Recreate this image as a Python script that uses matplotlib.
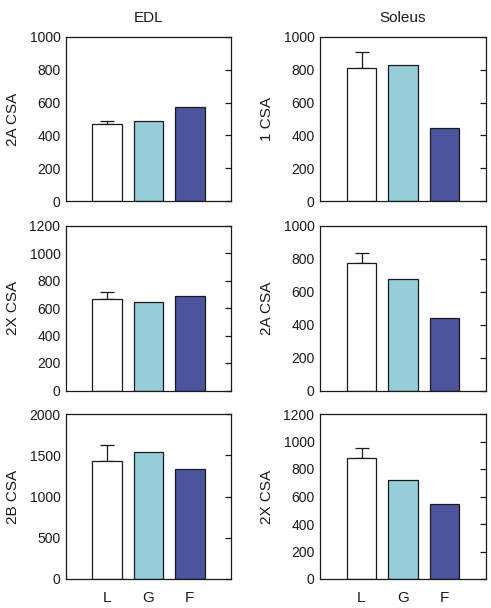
import matplotlib
matplotlib.use("Agg")
import matplotlib.pyplot as plt

plt.rcParams['font.family'] = ['Liberation Sans', 'DejaVu Sans']

groups = ["L", "G", "F"]
colors = ["#FFFFFF", "#96CDD9", "#4B549D"]

titles = ["EDL", "Soleus"]

# rows: top, middle, bottom; columns: EDL, Soleus
ylabels = [["2A CSA", "1 CSA"],
           ["2X CSA", "2A CSA"],
           ["2B CSA", "2X CSA"]]

edl_2a = [467, 489, 573]
edl_2a_err = [22, 0, 0]
edl_2x = [665, 643, 690]
edl_2x_err = [51, 0, 0]
edl_2b = [1434, 1543, 1329]
edl_2b_err = [186, 0, 0]

sol_1 = [813, 832, 444]
sol_1_err = [94, 0, 0]
sol_2a = [774, 677, 440]
sol_2a_err = [61, 0, 0]
sol_2x = [879, 721, 544]
sol_2x_err = [76, 0, 0]

values = [[edl_2a, sol_1], [edl_2x, sol_2a], [edl_2b, sol_2x]]
errors = [[edl_2a_err, sol_1_err], [edl_2x_err, sol_2a_err], [edl_2b_err, sol_2x_err]]
ymax = [[1000, 1000], [1200, 1000], [2000, 1200]]
ystep = [[200, 200], [200, 200], [500, 200]]

W, H = 491, 608
fig = plt.figure(figsize=(W / 100, H / 100), dpi=100)

col_x = [(66, 231), (320, 486)]
row_y = [(37, 201), (225.5, 390.5), (414, 579)]
ink = "#1a1a1a"

for r in range(3):
    for c in range(2):
        x0, x1 = col_x[c]
        y0, y1 = row_y[r]
        ax = fig.add_axes([x0 / W, 1 - y1 / H, (x1 - x0) / W, (y1 - y0) / H])
        vals = values[r][c]
        errs = errors[r][c]
        pos = list(range(len(groups)))
        ax.bar(pos, vals, width=0.72, color=colors, edgecolor=ink,
               linewidth=0.9, zorder=2)
        # upward-only error bars, only where an error is given
        ep = [p for p, e in zip(pos, errs) if e > 0]
        ev = [v for v, e in zip(vals, errs) if e > 0]
        ee = [e for e in errs if e > 0]
        ax.errorbar(ep, ev, yerr=[[0] * len(ee), ee], fmt="none", ecolor=ink,
                    elinewidth=0.9, capsize=5, capthick=0.9, zorder=1)
        ax.set_xlim(-1, 3)
        ax.set_ylim(0, ymax[r][c])
        ax.set_yticks(range(0, ymax[r][c] + 1, ystep[r][c]))
        ax.tick_params(axis="y", which="both", left=False, right=True,
                       direction="in", length=4.5, width=0.9, labelsize=10,
                       pad=4, colors=ink)
        if r == 2:
            ax.set_xticks(pos)
            ax.set_xticklabels(groups, fontsize=11)
            ax.tick_params(axis="x", length=0, pad=9, colors=ink)
        else:
            ax.set_xticks([])
        ax.set_ylabel(ylabels[r][c], fontsize=11, labelpad=7, color=ink)
        for s in ax.spines.values():
            s.set_linewidth(0.9)
            s.set_color(ink)
        if r == 0:
            ax.set_title(titles[c], fontsize=11, pad=11, color=ink)

fig.savefig("out.png", dpi=100)
